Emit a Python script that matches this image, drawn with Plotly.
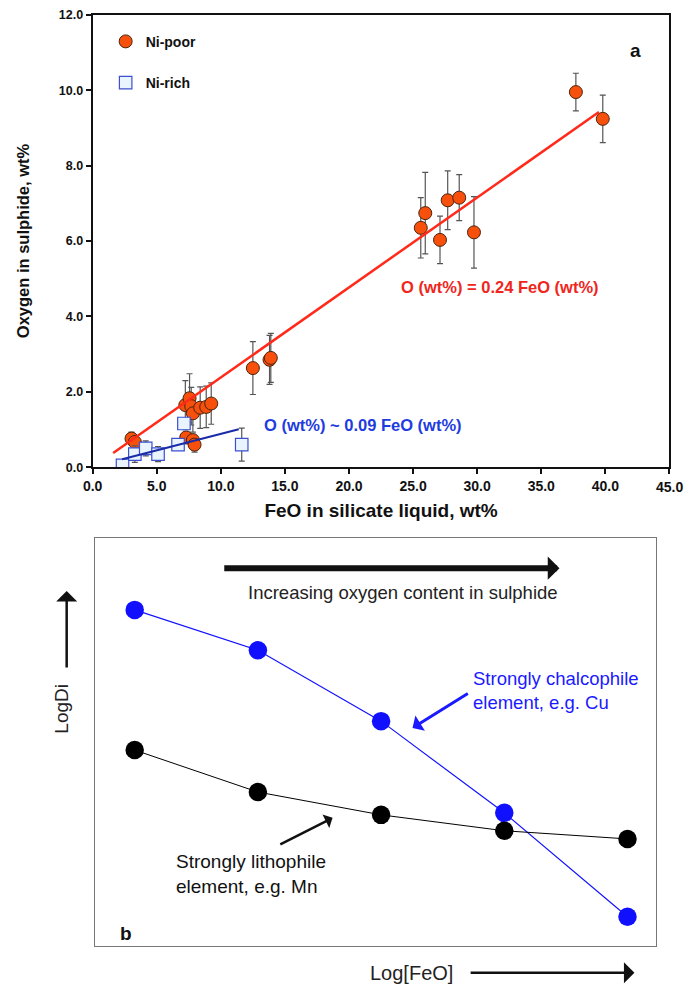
import plotly.graph_objects as go

W, H = 694, 988
FONT = "Liberation Sans, Arial, sans-serif"

# ---------------- Panel a data ----------------
poor_feo = [37.7, 39.8, 25.6, 25.95, 27.1, 27.7, 28.6, 29.75,
            12.5, 13.8, 13.9, 3.03, 3.29,
            7.23, 7.56, 7.69, 7.82, 8.39, 8.86, 9.25,
            7.30, 7.82, 7.95]
poor_o = [9.95, 9.24, 6.35, 6.74, 6.03, 7.08, 7.15, 6.23,
          2.63, 2.85, 2.90, 0.76, 0.67,
          1.65, 1.83, 1.62, 1.43, 1.58, 1.60, 1.69,
          0.79, 0.72, 0.60]
poor_err = [0.50, 0.63, 0.80, 1.08, 0.63, 0.78, 0.61, 0.95,
            0.70, 0.65, 0.65, 0.17, 0.12,
            0.65, 0.65, 0.50, 0.50, 0.55, 0.55, 0.55,
            0.15, 0.15, 0.20]

rich_feo = [2.33, 3.29, 4.14, 5.10, 6.66, 7.12, 11.63]
rich_o = [0.05, 0.35, 0.50, 0.35, 0.60, 1.16, 0.60]
rich_err = [0.05, 0.22, 0.20, 0.20, 0.08, 0.12, 0.44]

fit_poor_x = [1.6, 39.5]
fit_poor_y = [0.38, 9.42]
fit_rich_x = [2.3, 11.4]
fit_rich_y = [0.21, 1.01]

x_ticks = [0, 5, 10, 15, 20, 25, 30, 35, 40, 45]
x_tick_labels = ["0.0", "5.0", "10.0", "15.0", "20.0", "25.0", "30.0", "35.0", "40.0", "45.0"]

# ---------------- Panel b data ----------------
step = [1, 2, 3, 4, 5]
cu_logd = [8.24, 7.25, 5.51, 3.26, 0.71]
mn_logd = [4.80, 3.77, 3.21, 2.82, 2.62]

# the photographed page comes out slightly shrunk; pre-compensate positions
SX, OX = 0.986, 8.3
SY, OY = 0.987, 6.2


def PX(x):
    return ((x - OX) / SX) / W


def PY(y):
    return 1 - ((y - OY) / SY) / H


fig = go.Figure()

fig.add_trace(go.Scatter(
    x=poor_feo, y=poor_o, mode="markers", name="Ni-poor", legendgroup="a",
    marker=dict(symbol="circle", size=13, color="#F74F0C",
                line=dict(color="#4a2510", width=1)),
    error_y=dict(type="data", array=poor_err, color="#555555", thickness=1.2, width=3),
    xaxis="x", yaxis="y"))

fig.add_trace(go.Scatter(
    x=rich_feo, y=rich_o, mode="markers", name="Ni-rich", legendgroup="b",
    marker=dict(symbol="square", size=12.5, color="#E9F4FF",
                line=dict(color="#3B4FD0", width=1.2)),
    error_y=dict(type="data", array=rich_err, color="#555555", thickness=1.2, width=3),
    xaxis="x", yaxis="y"))

fig.add_trace(go.Scatter(
    x=fit_poor_x, y=fit_poor_y, mode="lines", showlegend=False,
    line=dict(color="#FF2A1A", width=2.5), xaxis="x", yaxis="y"))
fig.add_trace(go.Scatter(
    x=fit_rich_x, y=fit_rich_y, mode="lines", showlegend=False,
    line=dict(color="#1A2BA8", width=2), xaxis="x", yaxis="y"))

# Panel b
fig.add_trace(go.Scatter(
    x=step, y=cu_logd, mode="lines+markers", showlegend=False,
    line=dict(color="#1414FF", width=1.2),
    marker=dict(size=18.5, color="#1010FF"), xaxis="x2", yaxis="y2"))
fig.add_trace(go.Scatter(
    x=step, y=mn_logd, mode="lines+markers", showlegend=False,
    line=dict(color="#000000", width=1),
    marker=dict(size=18.5, color="#000000"), xaxis="x2", yaxis="y2"))

TICKFONT_X = dict(family=FONT, size=14, color="#111", weight="bold")
# last x tick label is written as an annotation so it never gets clipped at the page edge
axis_ticktext = x_tick_labels[:-1] + [""]

fig.update_layout(
    width=W, height=H, margin=dict(l=0, r=0, t=0, b=0),
    paper_bgcolor="white", plot_bgcolor="white",
    font=dict(family=FONT),
    xaxis=dict(domain=[PX(91), PX(668)], range=[0, 45],
               tickmode="array", tickvals=x_ticks, ticktext=axis_ticktext,
               showgrid=False, zeroline=False, showline=True, linewidth=2,
               linecolor="#111", mirror=True, ticks="outside", ticklen=5,
               tickwidth=2, tickcolor="#111", tickfont=TICKFONT_X,
               anchor="y",
               title=dict(text="FeO in silicate liquid, wt%", standoff=11,
                          font=dict(family=FONT, size=19, color="#111", weight="bold"))),
    yaxis=dict(domain=[PY(467), PY(14)], range=[0, 12], dtick=2, tickformat=".1f",
               showgrid=False, zeroline=False, showline=True, linewidth=2,
               linecolor="#111", mirror=True, ticks="outside", ticklen=5,
               tickwidth=2, tickcolor="#111",
               tickfont=dict(family=FONT, size=12.5, color="#111", weight="bold"),
               anchor="x",
               title=dict(text="Oxygen in sulphide, wt%", standoff=25,
                          font=dict(family=FONT, size=16.5, color="#111", weight="bold"))),
    xaxis2=dict(domain=[PX(93), PX(655)], range=[0.675, 5.235],
                showgrid=False, zeroline=False, showline=True, linewidth=1,
                linecolor="#777", mirror=True, showticklabels=False, ticks="",
                anchor="y2"),
    yaxis2=dict(domain=[PY(946), PY(538)], range=[0, 10],
                showgrid=False, zeroline=False, showline=True, linewidth=1,
                linecolor="#777", mirror=True, showticklabels=False, ticks="",
                anchor="x2"),
    legend=dict(x=PX(104), y=PY(25), xanchor="left", yanchor="top",
                bgcolor="rgba(0,0,0,0)", tracegroupgap=20,
                font=dict(family=FONT, size=14, color="#111", weight="bold"),
                itemwidth=30),
)


def label(x, y, text, size, color="#111", angle=0, align="center"):
    return dict(x=PX(x), y=PY(y), xref="paper", yref="paper", text=text,
                xanchor="center", yanchor="middle", align=align, textangle=angle,
                showarrow=False, font=dict(family=FONT, size=size, color=color))


ann = [
    # last x tick label, placed on the data axis
    dict(x=x_ticks[-1], y=PY(487), xref="x", yref="paper", text=x_tick_labels[-1],
         xanchor="center", yanchor="middle", showarrow=False, font=TICKFONT_X),
    # Panel a texts
    label(634, 50, "<b>a</b>", 19),
    label(499, 287, "<b>O (wt%) = 0.24 FeO (wt%)</b>", 16.5, "#F0261C"),
    label(361, 425, "<b>O (wt%) ~ 0.09 FeO (wt%)</b>", 16.5, "#1E3CE0"),
    # Panel b texts
    label(401, 592, "Increasing oxygen content in sulphide", 18.5, "#222"),
    label(555, 691, "Strongly chalcophile<br>element, e.g. Cu", 18.5, "#1A1AFF", align="left"),
    label(249, 874, "Strongly lithophile<br>element, e.g. Mn", 19, "#111", align="left"),
    label(124, 934, "<b>b</b>", 19),
    label(60, 709, "LogDi", 19, "#222", angle=-90),
    label(410, 973, "Log[FeO]", 20, "#222"),
]


def arrow(head, tail, color, width, head_style, size):
    return dict(x=PX(head[0]), y=PY(head[1]), xref="paper", yref="paper",
                ax=(tail[0] - head[0]) / SX, ay=(tail[1] - head[1]) / SY,
                axref="pixel", ayref="pixel",
                text="", showarrow=True, arrowcolor=color, arrowwidth=width,
                arrowhead=head_style, arrowsize=size, standoff=0, startstandoff=0)


ann.append(arrow((558, 568), (226, 568), "#111", 6, 1, 0.65))
ann.append(arrow((65, 591), (65, 668), "#111", 2.5, 1, 1.4))
ann.append(arrow((633, 973), (470, 973), "#111", 2.5, 1, 1.4))
ann.append(arrow((411, 728), (467, 693), "#1A1AFF", 3, 1, 1.0))
ann.append(arrow((331, 818), (278, 845), "#111", 2.5, 1, 1.0))

fig.update_layout(annotations=ann)

fig.write_html("out.html")
